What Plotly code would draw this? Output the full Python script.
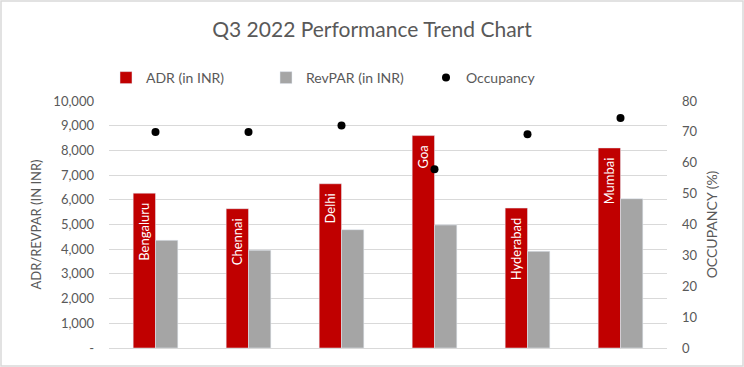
import plotly.graph_objects as go

cities = ["Bengaluru", "Chennai", "Delhi", "Goa", "Hyderabad", "Mumbai"]
adr = [6270, 5640, 6650, 8600, 5665, 8100]
revpar = [4360, 3960, 4790, 4980, 3915, 6045]
occupancy = [70.0, 70.0, 72.1, 57.9, 69.2, 74.5]
left_ticks = [0, 1000, 2000, 3000, 4000, 5000, 6000, 7000, 8000, 9000, 10000]
left_labels = ["-", "1,000", "2,000", "3,000", "4,000", "5,000", "6,000", "7,000", "8,000", "9,000", "10,000"]
right_ticks = [0, 10, 20, 30, 40, 50, 60, 70, 80]

FONT = "Lato"
GREY = "#595959"

fig = go.Figure()
fig.add_trace(go.Bar(
    x=cities, y=adr, name="ADR (in INR)", marker_color="#C00000",
    text=[c + "\u00a0\u00a0" for c in cities], textposition="inside",
    insidetextanchor="end", textangle=-90,
    textfont=dict(color="white", size=13, family=FONT),
    hoverinfo="y",
))
fig.add_trace(go.Bar(
    x=cities, y=revpar, name="RevPAR (in INR)", marker_color="#A5A5A5",
))
fig.add_trace(go.Scatter(
    x=cities, y=occupancy, name="Occupancy", mode="markers", yaxis="y2",
    marker=dict(color="black", size=8),
))

fig.update_layout(
    width=744, height=367,
    margin=dict(l=109, r=77, t=101, b=19, autoexpand=False),
    paper_bgcolor="white", plot_bgcolor="white",
    font=dict(family=FONT, color=GREY, size=13),
    title=dict(text="Q3 2022 Performance Trend Chart", x=0.5, xanchor="center",
               xref="container", yref="container",
               y=1 - 30 / 367, yanchor="middle", font=dict(size=21, color=GREY, family=FONT)),
    barmode="group", bargap=0.52, bargroupgap=0,
    showlegend=True,
    legend=dict(orientation="h", xref="container", yref="container",
                x=106 / 744, xanchor="left", y=1 - 78 / 367, yanchor="middle",
                entrywidth=115, font=dict(size=14, color=GREY), itemwidth=30,
                traceorder="normal", bgcolor="rgba(0,0,0,0)"),
    xaxis=dict(showticklabels=False, showline=False, ticks="", showgrid=False),
    yaxis=dict(range=[0, 10000], tickvals=left_ticks, ticktext=left_labels,
               showgrid=True, gridcolor="#D9D9D9", gridwidth=1, zeroline=True,
               zerolinecolor="#D9D9D9", zerolinewidth=1,
               title=dict(text="ADR/REVPAR (IN INR)", font=dict(size=13, color=GREY), standoff=8),
               tickfont=dict(size=13, color=GREY), ticks="", ticklen=0, ticklabelstandoff=14),
    yaxis2=dict(range=[0, 80], tickvals=right_ticks, overlaying="y", side="right",
                showgrid=False, zeroline=False,
                title=dict(text="OCCUPANCY (%)", font=dict(size=14, color=GREY), standoff=10),
                tickfont=dict(size=13, color=GREY), ticks="", ticklabelstandoff=14),
)
PW, PH = 744 - 109 - 77, 367 - 101 - 19
fig.add_shape(type="rect", xref="paper", yref="paper",
              x0=-108 / PW, x1=(PW + 76) / PW,
              y0=-18 / PH, y1=(PH + 100) / PH,
              line=dict(color="#D9D9D9", width=1.5))

fig.write_html("out.html", config={"displayModeBar": False},
               post_script="document.body.style.margin='0px';")
